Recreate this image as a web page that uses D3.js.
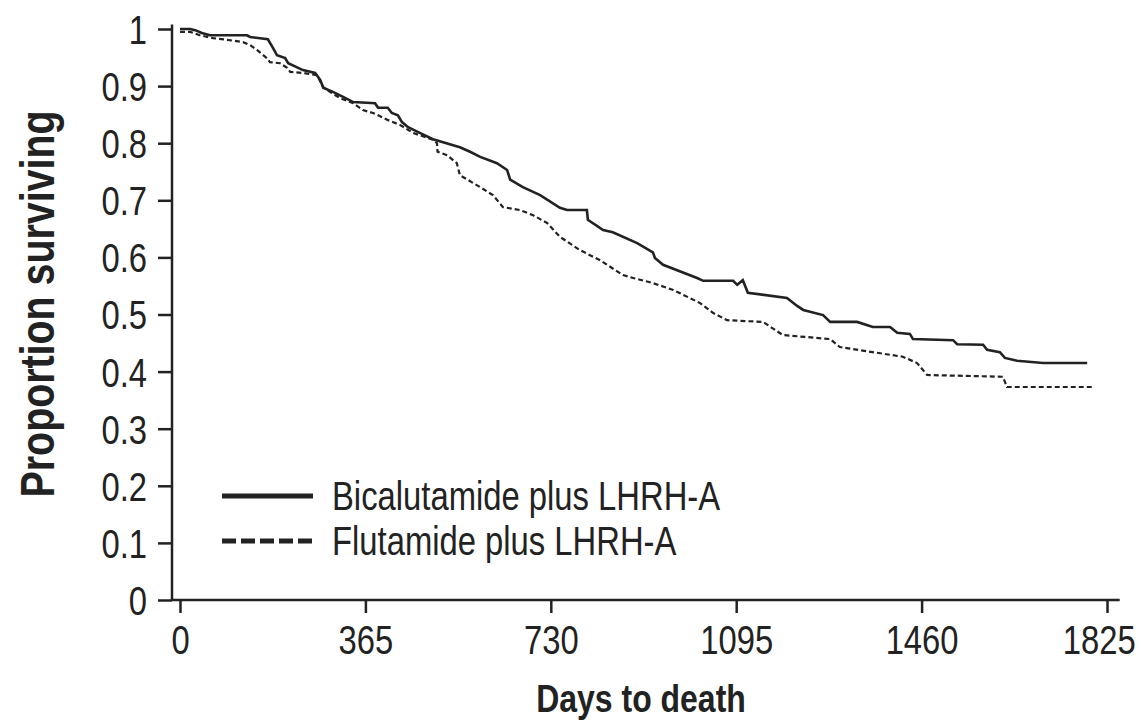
<!DOCTYPE html>
<html>
<head>
<meta charset="utf-8">
<script src="https://cdn.jsdelivr.net/npm/d3@7"></script>
<style>
  body { margin: 0; background: #fff; }
  svg text { font-family: "Liberation Sans", Arial, sans-serif; fill: #222; }
</style>
</head>
<body>
<svg id="chart" width="1142" height="728"></svg>
<script>
// survival curves: [days, proportion surviving]
const bicalutamide = [
  [0, 1.0], [20, 1.0], [30, 0.998], [43, 0.993], [59, 0.989], [132, 0.989], [138, 0.986],
  [173, 0.982], [183, 0.967], [191, 0.954], [207, 0.949], [213, 0.940], [242, 0.928],
  [266, 0.923], [276, 0.911], [282, 0.897], [301, 0.890], [321, 0.881], [341, 0.872],
  [384, 0.870], [390, 0.862], [409, 0.862], [417, 0.853], [429, 0.849], [437, 0.837],
  [449, 0.828], [472, 0.818], [498, 0.807], [551, 0.793], [571, 0.785], [591, 0.776],
  [624, 0.765], [644, 0.753], [650, 0.736], [675, 0.723], [709, 0.709], [748, 0.687],
  [762, 0.683], [801, 0.683], [803, 0.666], [833, 0.648], [852, 0.644], [900, 0.625],
  [931, 0.609], [935, 0.599], [951, 0.587], [1018, 0.564], [1030, 0.559], [1089, 0.559],
  [1097, 0.552], [1108, 0.560], [1118, 0.538], [1195, 0.529], [1215, 0.515], [1227, 0.508],
  [1266, 0.499], [1280, 0.487], [1333, 0.487], [1364, 0.478], [1398, 0.478], [1412, 0.468],
  [1437, 0.466], [1443, 0.457], [1522, 0.455], [1530, 0.448], [1581, 0.447], [1589, 0.438],
  [1614, 0.434], [1624, 0.424], [1648, 0.419], [1699, 0.415], [1786, 0.415]
];
const flutamide = [
  [0, 0.995], [20, 0.995], [39, 0.989], [65, 0.984], [93, 0.981], [124, 0.977], [138, 0.972],
  [152, 0.963], [171, 0.949], [177, 0.942], [197, 0.940], [211, 0.932], [217, 0.925],
  [242, 0.923], [270, 0.919], [282, 0.898], [295, 0.890], [315, 0.879], [341, 0.870],
  [360, 0.858], [380, 0.853], [408, 0.841], [433, 0.832], [459, 0.818], [498, 0.806],
  [506, 0.800], [507, 0.785], [526, 0.779], [545, 0.765], [551, 0.744], [591, 0.723],
  [616, 0.709], [636, 0.688], [669, 0.683], [695, 0.674], [723, 0.660], [748, 0.636],
  [787, 0.613], [827, 0.595], [872, 0.569], [892, 0.564], [931, 0.555], [971, 0.543],
  [1024, 0.520], [1049, 0.503], [1077, 0.490], [1148, 0.487], [1187, 0.464], [1280, 0.457],
  [1299, 0.443], [1423, 0.426], [1451, 0.415], [1471, 0.394], [1620, 0.391], [1628, 0.373],
  [1797, 0.373]
];

const seriesNames = ['Bicalutamide plus LHRH-A', 'Flutamide plus LHRH-A'];
const yTickValues = d3.range(0, 11).map(d => d / 10);
const yMinorTicks = d3.range(0, 21).map(d => d / 20);
const xTickValues = [0, 365, 730, 1095, 1460, 1825];
const xMinorTicks = d3.range(0, 31).map(d => d * 365 / 6);

const svg = d3.select('#chart');
const x = d3.scaleLinear().domain([0, 1825]).range([180, 1107]);
const y = d3.scaleLinear().domain([0, 1]).range([600, 29]);
const axisX0 = 172;
const ink = '#222';
const squeeze = 0.82; // no narrow font installed, so squeeze Liberation Sans sideways

function narrow(sel, prefix) {
  sel.each(function () {
    const t = d3.select(this);
    const x0 = +(t.attr('x') || 0);
    t.attr('x', x0 / squeeze)
      .attr('transform', (prefix || '') + ` scale(${squeeze},1)`);
  });
}

// y axis: short ticks every 0.05, labels every 0.1
const gy = svg.append('g').attr('transform', `translate(${axisX0},0)`);
gy.call(d3.axisLeft(y).tickValues(yMinorTicks).tickSize(14).tickFormat(''));
gy.call(d3.axisLeft(y).tickValues(yTickValues).tickSize(14).tickPadding(11)
  .tickFormat(d => d === 0 || d === 1 ? d3.format('d')(d) : d3.format('.1f')(d)));
gy.selectAll('.domain').remove();
gy.selectAll('line').attr('stroke', ink).attr('stroke-width', 2.5);
gy.selectAll('text').attr('font-size', 40).attr('dy', '0.36em').call(narrow);
gy.append('line').attr('x1', 0).attr('x2', 0).attr('y1', y(0)).attr('y2', y(1.008))
  .attr('stroke', ink).attr('stroke-width', 2.5);

// x axis: ticks every two months, labels every year
const gx = svg.append('g').attr('transform', `translate(0,${y(0)})`);
gx.call(d3.axisBottom(x).tickValues(xMinorTicks).tickSize(13).tickFormat(''));
gx.call(d3.axisBottom(x).tickValues(xTickValues).tickSize(13).tickPadding(12).tickFormat(d3.format('d')));
gx.selectAll('.domain').remove();
gx.selectAll('line').attr('stroke', ink).attr('stroke-width', 2.5);
gx.selectAll('text').attr('font-size', 40).attr('dy', '0.72em').call(narrow);
// last label sits a little left of its tick so it stays inside the page
gx.selectAll('text').filter(d => d === 1825).attr('dx', -10);
gx.append('line').attr('x1', axisX0).attr('x2', x(1850)).attr('y1', 0).attr('y2', 0)
  .attr('stroke', ink).attr('stroke-width', 2.5);

// curves
const line = d3.line().x(d => x(d[0])).y(d => y(d[1]));
svg.append('path').datum(bicalutamide).attr('d', line)
  .attr('fill', 'none').attr('stroke', ink).attr('stroke-width', 2.6);
svg.append('path').datum(flutamide).attr('d', line)
  .attr('fill', 'none').attr('stroke', ink).attr('stroke-width', 2.2).attr('stroke-dasharray', '5,3');

// legend
const legend = svg.append('g').attr('transform', 'translate(222,496)');
seriesNames.forEach((name, i) => {
  const row = legend.append('g').attr('transform', `translate(0,${i * 45})`);
  row.append('line').attr('x1', 0).attr('x2', 91).attr('y1', 0).attr('y2', 0)
    .attr('stroke', ink).attr('stroke-width', 5)
    .attr('stroke-dasharray', i === 0 ? null : '14,5');
  row.append('text').attr('x', 110).attr('y', 0).attr('dy', '0.36em')
    .attr('font-size', 40).text(name).call(narrow);
});

// axis titles
svg.append('text').attr('text-anchor', 'middle').attr('font-size', 48).attr('font-weight', 'bold')
  .text('Proportion surviving').call(narrow, 'translate(54,304) rotate(-90)');
svg.append('text').attr('x', 641).attr('y', 712)
  .attr('text-anchor', 'middle').attr('font-size', 39).attr('font-weight', 'bold')
  .text('Days to death').call(narrow);
</script>
</body>
</html>
